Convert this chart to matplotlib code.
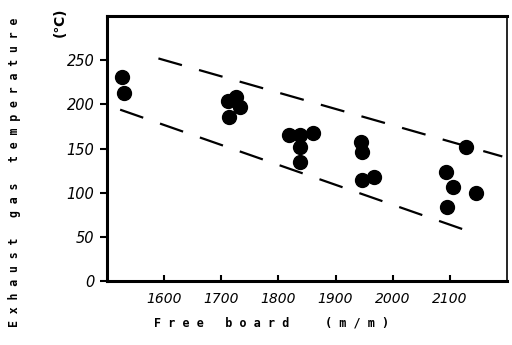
import matplotlib
matplotlib.use("Agg")
import matplotlib.pyplot as plt
import numpy as np

# --- data ---
free_board = [1526, 1530, 1711, 1725, 1733, 1714,
              1818, 1837, 1861, 1837, 1837,
              1944, 1947, 1947, 1968,
              2093, 2105, 2096, 2128, 2146]
gas_temp = [231, 213, 204, 208, 197, 186,
            165, 165, 168, 152, 135,
            157, 146, 114, 118,
            123, 106, 84, 152, 100]

upper_x = [1590, 2192]
upper_y = [252, 141]
lower_x = [1523, 2139]
lower_y = [194, 55]

x_ticks = [1600, 1700, 1800, 1900, 2000, 2100]
y_ticks = [0, 50, 100, 150, 200, 250]

# --- plot ---
fig = plt.figure(figsize=(5.12, 3.45), dpi=100)
ax = fig.add_axes([0.209, 0.1855, 0.781, 0.768])

ax.plot(upper_x, upper_y, color='black', lw=1.6, dashes=(11, 8))
ax.plot(lower_x, lower_y, color='black', lw=1.6, dashes=(11, 8))
ax.plot(free_board, gas_temp, 'o', color='black', markersize=10)

ax.set_xlim(1500, 2200)
ax.set_ylim(0, 300)
ax.set_xticks(x_ticks)
ax.set_yticks(y_ticks)
ax.set_xticklabels([str(t) for t in x_ticks], fontstyle='italic', fontsize=10)
ax.set_yticklabels([str(t) for t in y_ticks], fontstyle='italic', fontsize=10.5)
ax.tick_params(axis='x', direction='in', length=4, width=1.5, pad=8)
ax.tick_params(axis='y', direction='out', length=5, width=1.5, pad=4)

for side in ['left', 'bottom', 'top']:
    ax.spines[side].set_linewidth(2.2)
ax.spines['right'].set_linewidth(1.2)

fig.text(0.029, 0.50, "E x h a u s t   g a s   t e m p e r a t u r e",
         rotation=90, ha='center', va='center', fontsize=8.3,
         fontweight='bold', family='DejaVu Sans Mono')
fig.text(0.117, 0.936, "(℃)", rotation=90, ha='center', va='center',
         fontsize=10, fontweight='bold')
fig.text(0.53, 0.065, "F r e e   b o a r d     ( m / m )",
         ha='center', va='center', fontsize=8.5,
         fontweight='bold', family='DejaVu Sans Mono')

fig.savefig("out.png", dpi=100)
